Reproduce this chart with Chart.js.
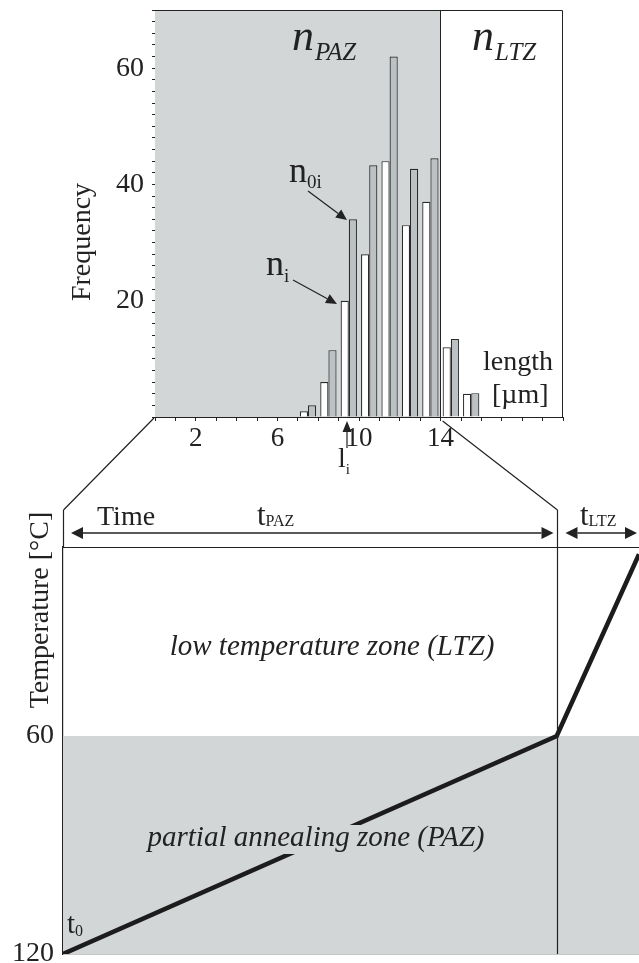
<!DOCTYPE html>
<html>
<head>
<meta charset="utf-8">
<script src="https://cdn.jsdelivr.net/npm/chart.js@4/dist/chart.umd.min.js"></script>
<style>
  html, body { margin: 0; padding: 0; background: #fff; }
  #wrap { position: relative; width: 639px; height: 963px; overflow: hidden; }
  #histo { position: absolute; left: 0; top: 0; }
  #path { position: absolute; left: 0; top: 400px; }
</style>
</head>
<body>
<div id="wrap">
  <canvas id="histo" width="639" height="480"></canvas>
  <canvas id="path" width="639" height="563"></canvas>
</div>
<script>
// track length histogram (um), pairs of bars per 1 um bin
const lengthBins = [7.5, 8.5, 9.5, 10.5, 11.5, 12.5, 13.5, 14.5, 15.5];
const nObserved = [1, 6, 20, 28, 44, 33, 37, 12, 4];        // n_i
const nInitial = [2, 11.5, 34, 43.3, 62, 42.7, 44.5, 13.4, 4.1]; // n_0i
const freqTickLabels = [20, 40, 60];
const lengthTickLabels = [2, 6, 10, 14];
const pazLengthLimit = 14;

// thermal path (time in arbitrary units, temperature in C)
const timePoints = [0, 6, 7];
const temperaturePath = [120, 60, 10];
const tempTickLabels = [60, 120];
const pazTop = 60;
const pazBottom = 120;
const pazEndTime = 6;

const serif = "'Liberation Serif', 'DejaVu Serif', serif";
const ink = '#222';
const pazGrey = '#d2d6d7';
const barGrey = '#bcc1c3';

Chart.defaults.font.family = serif;
Chart.defaults.color = ink;

function drawArrow(ctx, x1, y1, x2, y2, head, half) {
  const a = Math.atan2(y2 - y1, x2 - x1);
  const bx = x2 - head * Math.cos(a), by = y2 - head * Math.sin(a);
  ctx.beginPath(); ctx.moveTo(x1, y1); ctx.lineTo(bx, by); ctx.stroke();
  ctx.beginPath();
  ctx.moveTo(x2, y2);
  ctx.lineTo(bx + half * Math.sin(a), by - half * Math.cos(a));
  ctx.lineTo(bx - half * Math.sin(a), by + half * Math.cos(a));
  ctx.closePath();
  ctx.fill();
}

function subText(ctx, main, sub, x, y, size, subSize, dy, italic) {
  const st = italic ? 'italic ' : '';
  ctx.font = st + size + 'px ' + serif;
  ctx.fillText(main, x, y);
  const w = ctx.measureText(main).width;
  ctx.font = st + subSize + 'px ' + serif;
  ctx.fillText(sub, x + w + (italic ? 1 : 0), y + dy);
}

// drop the label overhang chart.js reserves so the plot box sits exactly
function noOverhang(s) {
  s.paddingTop = 0;
  s.paddingBottom = 0;
  s.paddingLeft = 0;
  s.paddingRight = 0;
}

// ---------- histogram ----------
const histoDecor = {
  id: 'histoDecor',
  beforeDatasetsDraw(chart) {
    const {ctx, chartArea: a, scales: {x}} = chart;
    ctx.save();
    ctx.fillStyle = pazGrey;
    ctx.fillRect(a.left, a.top, x.getPixelForValue(pazLengthLimit) - a.left, a.bottom - a.top);
    ctx.restore();
  },
  afterDraw(chart) {
    const {ctx, chartArea: a, scales: {x}} = chart;
    ctx.save();
    ctx.strokeStyle = ink;
    ctx.fillStyle = ink;
    ctx.lineWidth = 1;
    ctx.beginPath();
    ctx.moveTo(a.left, a.top + 0.5);
    ctx.lineTo(a.right - 0.5, a.top + 0.5);
    ctx.lineTo(a.right - 0.5, a.bottom);
    const xd = Math.round(x.getPixelForValue(pazLengthLimit)) - 0.5;
    ctx.moveTo(xd, a.top);
    ctx.lineTo(xd, a.bottom);
    ctx.stroke();

    ctx.textAlign = 'left';
    ctx.textBaseline = 'alphabetic';
    subText(ctx, 'n', 'PAZ', 292, 50, 44, 25, 10, true);
    subText(ctx, 'n', 'LTZ', 472, 50, 44, 25, 10, true);
    subText(ctx, 'n', '0i', 289, 182, 36, 19, 6, false);
    subText(ctx, 'n', 'i', 266, 275, 36, 19, 7, false);

    ctx.lineWidth = 1.2;
    drawArrow(ctx, 308, 191, 347, 220, 11, 5);
    drawArrow(ctx, 293, 280, 337, 304, 11, 5);
    drawArrow(ctx, 347, 448, 347, 421, 11, 4.5);

    subText(ctx, 'l', 'i', 338, 467, 28, 15, 7, false);

    ctx.font = '28px ' + serif;
    ctx.fillText('length', 483, 370);
    ctx.fillText('[µm]', 492, 403);

    ctx.translate(83, 242);
    ctx.rotate(-Math.PI / 2);
    ctx.textAlign = 'center';
    ctx.textBaseline = 'middle';
    ctx.fillText('Frequency', 0, 0);
    ctx.restore();
  }
};

const histoChart = new Chart(document.getElementById('histo'), {
  type: 'bar',
  data: {
    datasets: [
      {
        label: 'n_i',
        data: lengthBins.map((l, i) => ({x: l, y: nObserved[i]})),
        backgroundColor: '#ffffff',
        borderColor: '#2a2a2a',
        borderWidth: 1.2
      },
      {
        label: 'n_0i',
        data: lengthBins.map((l, i) => ({x: l, y: nInitial[i]})),
        backgroundColor: barGrey,
        borderColor: '#2a2a2a',
        borderWidth: 1.2
      }
    ]
  },
  plugins: [histoDecor],
  options: {
    responsive: false,
    animation: false,
    layout: {padding: {top: 10, right: 76, left: 0, bottom: 0}},
    categoryPercentage: 0.8,
    barPercentage: 1,
    plugins: {legend: {display: false}, tooltip: {enabled: false}},
    scales: {
      x: {
        type: 'linear',
        min: 0,
        max: 20,
        offset: false,
        grid: {offset: false, drawOnChartArea: false, tickLength: 4, color: ink},
        border: {color: ink, width: 1},
        ticks: {
          stepSize: 1,
          autoSkip: false,
          maxRotation: 0,
          padding: 2,
          font: {size: 27},
          callback: v => lengthTickLabels.includes(v) ? String(v) : ''
        },
        afterFit: s => { noOverhang(s); s.height = 63; }
      },
      y: {
        min: 0,
        max: 70,
        grid: {drawOnChartArea: false, tickLength: 3, color: ink},
        border: {color: ink, width: 1},
        ticks: {
          stepSize: 2,
          autoSkip: false,
          padding: 8,
          font: {size: 28},
          callback: v => freqTickLabels.includes(v) ? String(v) : ''
        },
        afterFit: s => { noOverhang(s); s.width = 155; }
      }
    }
  }
});

// ---------- thermal path ----------
const pathDecor = {
  id: 'pathDecor',
  beforeDatasetsDraw(chart) {
    const {ctx, chartArea: a, scales: {y}} = chart;
    ctx.save();
    ctx.fillStyle = pazGrey;
    const y0 = y.getPixelForValue(pazTop);
    ctx.fillRect(a.left, y0, a.right - a.left, y.getPixelForValue(pazBottom) - y0);
    ctx.restore();
  },
  afterDatasetsDraw(chart) {
    const {ctx, chartArea: a, scales: {x}} = chart;
    const hx = histoChart.scales.x;
    const xe = Math.round(x.getPixelForValue(pazEndTime)) + 0.5;
    ctx.save();
    ctx.fillStyle = ink;
    ctx.strokeStyle = ink;

    // zone labels, the PAZ one knocks out the path line
    ctx.textAlign = 'center';
    ctx.textBaseline = 'alphabetic';
    ctx.font = 'italic 29px ' + serif;
    const paz = 'partial annealing zone (PAZ)';
    const w = ctx.measureText(paz).width;
    ctx.fillStyle = pazGrey;
    ctx.fillRect(316 - w / 2 - 2, 425, w + 4, 29);
    ctx.fillStyle = ink;
    ctx.fillText(paz, 316, 446);
    ctx.fillText('low temperature zone (LTZ)', 332, 255);

    // frame lines
    ctx.lineWidth = 1.2;
    ctx.beginPath();
    ctx.moveTo(a.left, a.top + 0.5);
    ctx.lineTo(a.right, a.top + 0.5);
    ctx.moveTo(xe, 110);
    ctx.lineTo(xe, a.bottom);
    ctx.moveTo(a.left + 0.5, 110);
    ctx.lineTo(a.left + 0.5, a.top);
    // connectors to histogram
    ctx.moveTo(hx.getPixelForValue(0) - 1, 18);
    ctx.lineTo(a.left + 0.5, 110);
    ctx.moveTo(hx.getPixelForValue(pazLengthLimit) + 2, 21);
    ctx.lineTo(xe, 110);
    ctx.stroke();

    // time arrows
    ctx.lineWidth = 1.5;
    const ay = 133;
    drawArrow(ctx, 300, ay, a.left + 8, ay, 12, 6);
    drawArrow(ctx, 300, ay, xe - 4, ay, 12, 6);
    drawArrow(ctx, 600, ay, xe + 8, ay, 12, 6);
    drawArrow(ctx, 600, ay, 637, ay, 12, 6);

    ctx.textAlign = 'left';
    ctx.font = '28px ' + serif;
    ctx.fillText('Time', 97, 125);
    subText(ctx, 't', 'PAZ', 257, 125, 31, 16, 1, false);
    subText(ctx, 't', 'LTZ', 580, 125, 31, 16, 1, false);
    subText(ctx, 't', '0', 67, 533, 29, 16, 3, false);

    ctx.font = '28px ' + serif;
    ctx.translate(41, 210);
    ctx.rotate(-Math.PI / 2);
    ctx.textAlign = 'center';
    ctx.textBaseline = 'middle';
    ctx.fillText('Temperature [°C]', 0, 0);
    ctx.restore();
  }
};

new Chart(document.getElementById('path'), {
  type: 'line',
  data: {
    datasets: [{
      label: 'thermal path',
      data: timePoints.map((t, i) => ({x: t, y: temperaturePath[i]})),
      borderColor: '#1c1c1c',
      borderWidth: 4.5,
      pointRadius: 0,
      tension: 0,
      fill: false
    }]
  },
  plugins: [pathDecor],
  options: {
    responsive: false,
    animation: false,
    layout: {padding: {top: 147, right: 0, left: 0, bottom: 0}},
    plugins: {legend: {display: false}, tooltip: {enabled: false}},
    scales: {
      x: {
        type: 'linear',
        min: 0,
        max: 7,
        grid: {display: false},
        border: {color: ink, width: 1.2},
        ticks: {display: false},
        afterFit: s => { noOverhang(s); s.height = 9; }
      },
      y: {
        type: 'linear',
        reverse: true,
        min: 8,
        max: 120,
        grid: {drawOnChartArea: false, drawTicks: false},
        border: {color: ink, width: 1.2},
        ticks: {padding: 9, font: {size: 28}},
        afterBuildTicks: s => { s.ticks = tempTickLabels.map(v => ({value: v})); },
        afterFit: s => { noOverhang(s); s.width = 63; }
      }
    }
  }
});
</script>
</body>
</html>
